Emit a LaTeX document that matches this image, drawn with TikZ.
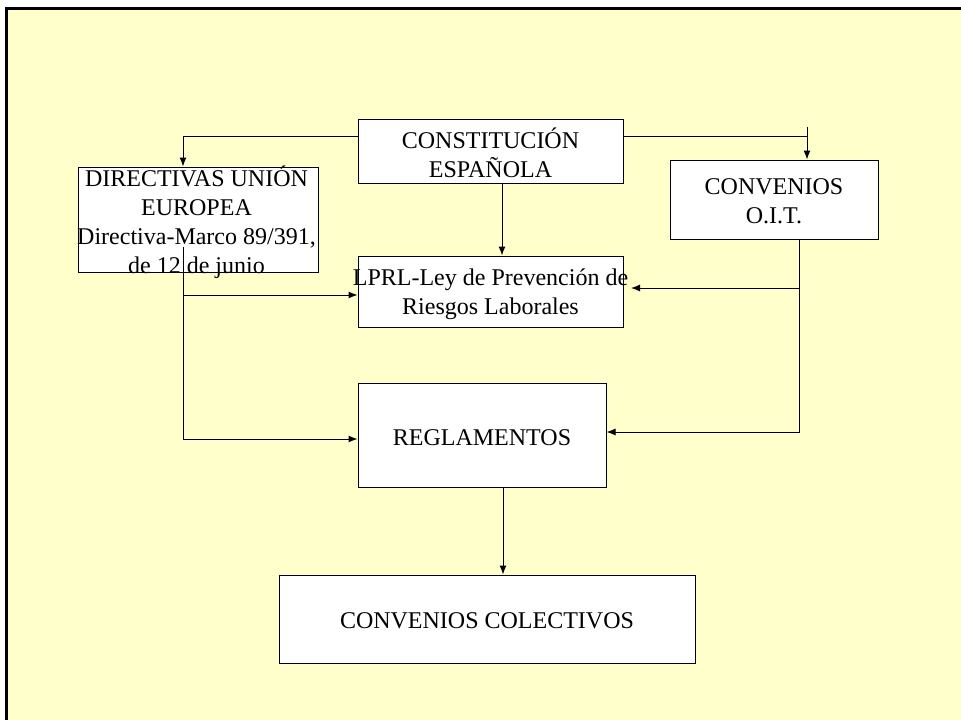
\documentclass[tikz,border=0pt]{standalone}
\usepackage{fontspec}
\setmainfont{Liberation Serif}
\usetikzlibrary{arrows.meta,calc}
\definecolor{bgyellow}{HTML}{FFFFCC}
\tikzset{
  box/.style={draw=black, line width=1pt, fill=white, rectangle, inner sep=0pt},
  lbl/.style={inner sep=0pt, align=center, font=\fontsize{24}{29}\selectfont},
  conn/.style={draw=black, line width=1pt},
  arr/.style={conn, -{Latex[length=9pt,width=7pt]}}
}
\begin{document}
\begin{tikzpicture}[x=1pt,y=-1pt]
\useasboundingbox (0,0) rectangle (961,720);
\fill[white] (0,0) rectangle (961,720);
\fill[bgyellow] (6.7,8.5) rectangle (961,720);
\draw[line width=2.6pt, black] (6.7,720) -- (6.7,8.5) -- (961,8.5);

% boxes
\node[box, minimum width=265pt, minimum height=64pt] (CE) at (490.5,151) {};
\node[box, minimum width=240pt, minimum height=105pt] (DIR) at (198,219.5) {};
\node[box, minimum width=208pt, minimum height=79pt] (CO) at (774,199.5) {};
\node[box, minimum width=265pt, minimum height=71pt] (LPRL) at (490.5,291.5) {};
\node[box, minimum width=248pt, minimum height=104pt] (REG) at (482,435) {};
\node[box, minimum width=416pt, minimum height=88pt] (CC) at (487,619) {};

% labels
\node[lbl] (tCE) at (490.5,153) {CONSTITUCIÓN\\ESPAÑOLA};
\node[lbl] (tCO) at (774,201) {CONVENIOS\\O.I.T.};
\node[lbl] (tLPRL) at (490.5,294.5) {LPRL-Ley de Prevención de\\Riesgos Laborales};
\node[lbl] (tREG) at (482,437.5) {REGLAMENTOS};
\node[lbl] (tCC) at (487,620.5) {CONVENIOS COLECTIVOS};

% rails
\coordinate (lrail) at (183,136);
\coordinate (stub) at (807,127);
\coordinate (rrail) at (799,288);
\coordinate (dstart) at (183,247);
\coordinate (lprltip) at (631,288);

% connectors
\draw[arr] (CE.west |- lrail) -| (DIR.north -| lrail);
\draw[conn] (CE.east |- lrail) -- (stub |- lrail);
\draw[arr] (stub) -- (CO.north -| stub);
\draw[arr] (CE.south -| 502,0) -- (LPRL.north -| 502,0);
\draw[arr] (dstart) |- (REG.west |- 0,439);
\draw[arr] (dstart |- 0,295) -- (LPRL.west |- 0,295);
\draw[arr] (CO.south -| rrail) |- (REG.east |- 0,432);
\draw[arr] (rrail) -- (lprltip);
\draw[arr] (REG.south -| 503,0) -- (CC.north -| 503,0);

% directivas text drawn over the vertical line
\node[lbl] (tDIR) at (196.5,222) {DIRECTIVAS UNIÓN\\EUROPEA\\Directiva-Marco 89/391,\\de 12 de junio};
\end{tikzpicture}
\end{document}
